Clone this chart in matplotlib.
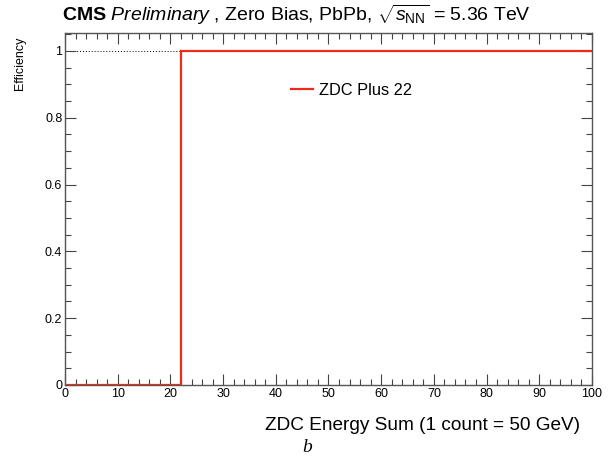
import numpy as np
import matplotlib
matplotlib.use("Agg")
from matplotlib import pyplot as plt
from matplotlib.ticker import MultipleLocator

plt.rcParams['font.family'] = ['Liberation Sans', 'DejaVu Sans']
plt.rcParams['mathtext.fontset'] = 'custom'
plt.rcParams['mathtext.rm'] = 'Liberation Sans'
plt.rcParams['mathtext.it'] = 'Liberation Sans:italic'
plt.rcParams['mathtext.bf'] = 'Liberation Sans:bold'

# bin edges and efficiency per bin (ZDC Plus, threshold 22)
edges = [0, 22, 100]
efficiency = [0, 1]
label = "ZDC Plus 22"

fig = plt.figure(figsize=(6.14, 4.62), dpi=100)
ax = fig.add_axes([0.106, 0.1667, 0.858, 0.762])

# dotted reference at efficiency 1
ax.axhline(1.0, color='black', ls=(0, (1, 2)), lw=0.7, zorder=1)
ax.stairs(efficiency, edges, color='#ee2a1b', lw=1.6, baseline=None,
          label=label, zorder=3)

ax.set_xlim(0, 100)
ax.set_ylim(0, 1.054)
ax.xaxis.set_major_locator(MultipleLocator(10))
ax.xaxis.set_minor_locator(MultipleLocator(2))
ax.yaxis.set_minor_locator(MultipleLocator(0.05))
ax.set_yticks([0, 0.2, 0.4, 0.6, 0.8, 1.0])
ax.set_yticklabels(['0', '0.2', '0.4', '0.6', '0.8', '1'])
ax.tick_params(which='both', direction='in', top=True, right=True,
               labelsize=9, color='#444444', pad=2)
ax.tick_params(which='major', length=8, width=0.8)
ax.tick_params(which='minor', length=4, width=0.8)
for s in ax.spines.values():
    s.set_color('#555555')
    s.set_linewidth(1.0)

leg = ax.legend(loc='upper left', bbox_to_anchor=(0.40, 0.9), frameon=False,
                fontsize=11.8, handlelength=1.35, handletextpad=0.4)

fig.text(0.101, 0.968,
         r"$\mathbf{CMS}$ $\mathit{Preliminary}$ , Zero Bias, PbPb, "
         r"$\sqrt{s_{\mathrm{NN}}}$ = 5.36 TeV",
         fontsize=14, ha='left', va='center')
fig.text(0.945, 0.078, "ZDC Energy Sum (1 count = 50 GeV)",
         fontsize=13.7, ha='right', va='center')
fig.text(0.033, 0.92, "Efficiency", fontsize=9, rotation=90,
         ha='center', va='top')
fig.text(0.5, 0.032, "b", fontsize=14, family='Liberation Serif',
         style='italic', ha='center', va='center')

fig.savefig("out.png", dpi=100)
